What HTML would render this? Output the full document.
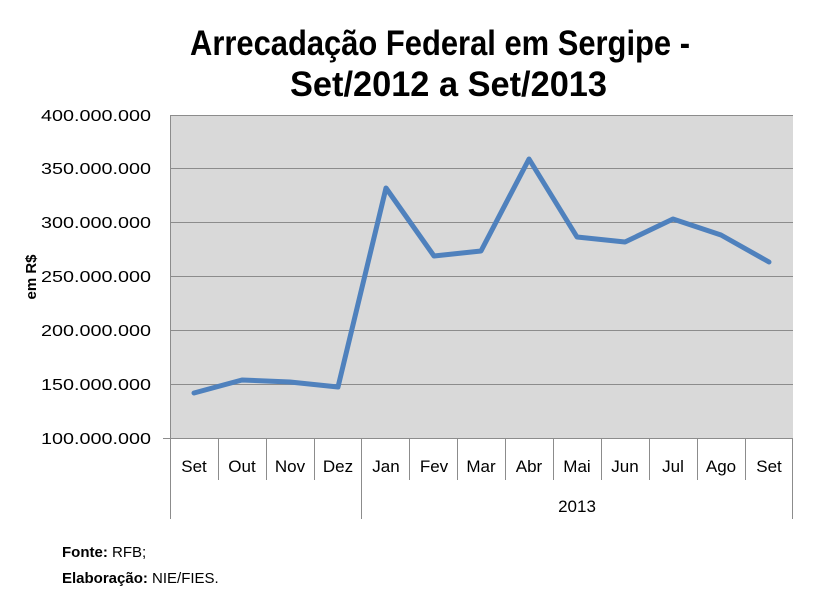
<!DOCTYPE html>
<html><head><meta charset="utf-8"><style>
body{margin:0;background:#fff;}
</style></head><body>
<svg width="814" height="605" xmlns="http://www.w3.org/2000/svg" font-family="Liberation Sans, sans-serif">
<rect width="814" height="605" fill="#fff"/>
<text x="190" y="55" font-size="35" font-weight="bold" textLength="500" lengthAdjust="spacingAndGlyphs">Arrecadação Federal em Sergipe -</text>
<text x="290" y="96" font-size="35" font-weight="bold" textLength="317" lengthAdjust="spacingAndGlyphs">Set/2012 a Set/2013</text>
<rect x="170" y="115" width="623" height="323" fill="#d9d9d9"/>
<g stroke="#8c8c8c" stroke-width="1">
<line x1="170" x2="793" y1="115.5" y2="115.5"/>
<line x1="170" x2="793" y1="168.5" y2="168.5"/>
<line x1="170" x2="793" y1="222.5" y2="222.5"/>
<line x1="170" x2="793" y1="276.5" y2="276.5"/>
<line x1="170" x2="793" y1="330.5" y2="330.5"/>
<line x1="170" x2="793" y1="384.5" y2="384.5"/>
<line x1="163" x2="793" y1="438.5" y2="438.5"/>
<line x1="170.5" x2="170.5" y1="115" y2="519"/>
<line x1="361.5" x2="361.5" y1="438" y2="519"/>
<line x1="792.5" x2="792.5" y1="438" y2="519"/>
<line x1="218.5" x2="218.5" y1="438" y2="480"/>
<line x1="266.5" x2="266.5" y1="438" y2="480"/>
<line x1="314.5" x2="314.5" y1="438" y2="480"/>
<line x1="409.5" x2="409.5" y1="438" y2="480"/>
<line x1="457.5" x2="457.5" y1="438" y2="480"/>
<line x1="505.5" x2="505.5" y1="438" y2="480"/>
<line x1="553.5" x2="553.5" y1="438" y2="480"/>
<line x1="601.5" x2="601.5" y1="438" y2="480"/>
<line x1="649.5" x2="649.5" y1="438" y2="480"/>
<line x1="697.5" x2="697.5" y1="438" y2="480"/>
<line x1="745.5" x2="745.5" y1="438" y2="480"/>
</g>
<g font-size="16">
<text x="41" y="121" textLength="110" lengthAdjust="spacingAndGlyphs">400.000.000</text>
<text x="41" y="174" textLength="110" lengthAdjust="spacingAndGlyphs">350.000.000</text>
<text x="41" y="228" textLength="110" lengthAdjust="spacingAndGlyphs">300.000.000</text>
<text x="41" y="282" textLength="110" lengthAdjust="spacingAndGlyphs">250.000.000</text>
<text x="41" y="336" textLength="110" lengthAdjust="spacingAndGlyphs">200.000.000</text>
<text x="41" y="390" textLength="110" lengthAdjust="spacingAndGlyphs">150.000.000</text>
<text x="41" y="444" textLength="110" lengthAdjust="spacingAndGlyphs">100.000.000</text>
</g>
<text transform="translate(36,277) rotate(-90)" text-anchor="middle" font-size="15" font-weight="bold">em R$</text>
<g font-size="17" text-anchor="middle">
<text x="194" y="472">Set</text><text x="242" y="472">Out</text><text x="290" y="472">Nov</text><text x="338" y="472">Dez</text>
<text x="386" y="472">Jan</text><text x="434" y="472">Fev</text><text x="481" y="472">Mar</text><text x="529" y="472">Abr</text>
<text x="577" y="472">Mai</text><text x="625" y="472">Jun</text><text x="673" y="472">Jul</text><text x="721" y="472">Ago</text><text x="769" y="472">Set</text>
<text x="577" y="512">2013</text>
</g>
<polyline fill="none" stroke="#4f81bd" stroke-width="5" stroke-linejoin="round" stroke-linecap="round"
points="194,393 242,380 290,382 338,387 386,188 434,256 481,251 529,159 577,237 625,242 673,219 721,235 769,262"/>
<text x="62" y="557" font-size="15"><tspan font-weight="bold">Fonte:</tspan> RFB;</text>
<text x="62" y="583" font-size="15"><tspan font-weight="bold">Elaboração:</tspan> NIE/FIES.</text>
</svg>
</body></html>
